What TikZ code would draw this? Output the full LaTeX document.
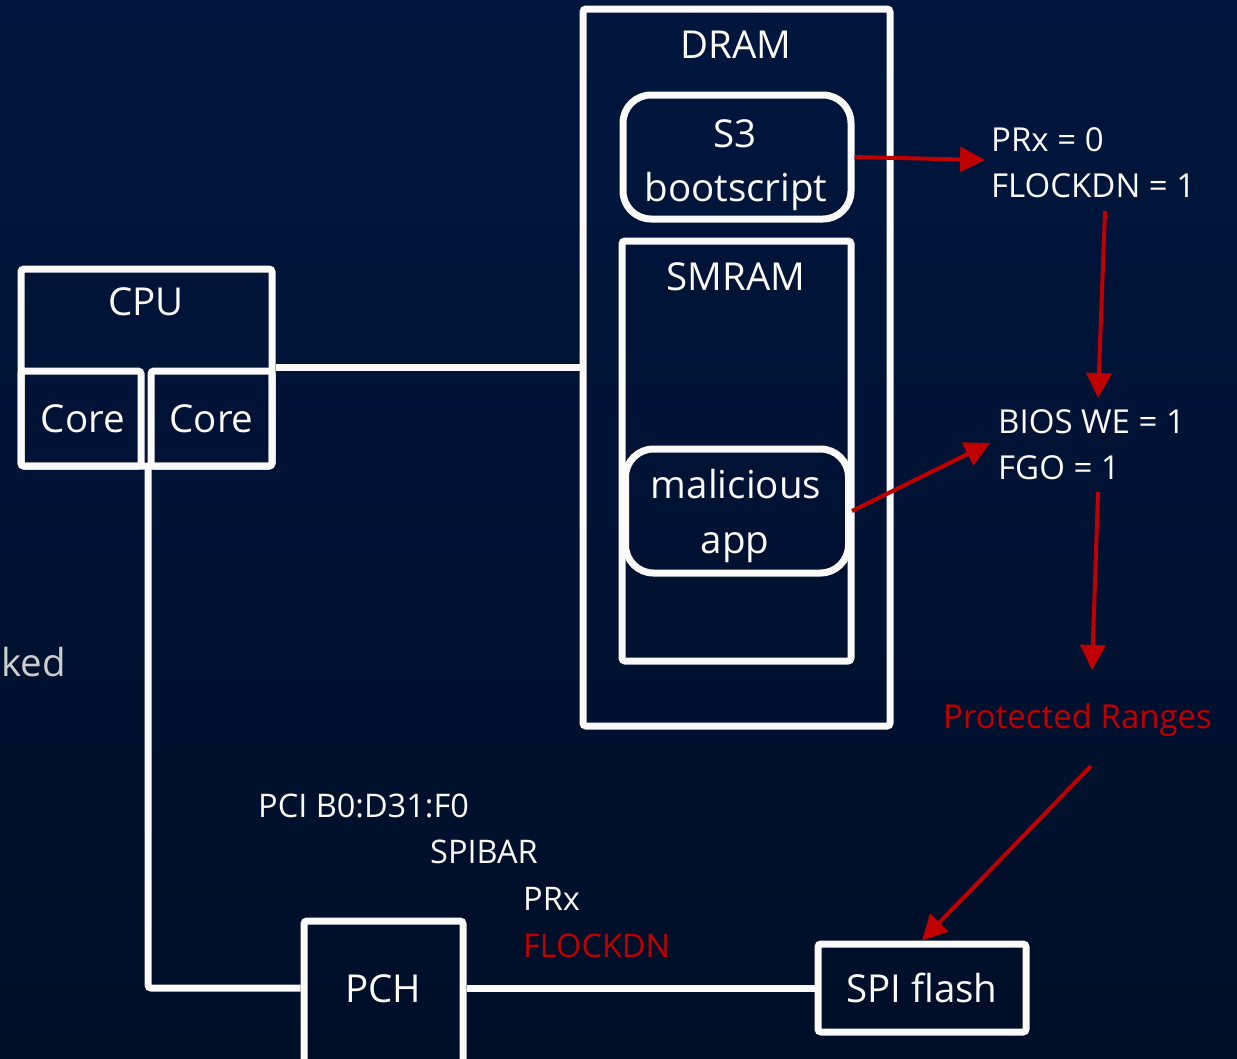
\documentclass[tikz,border=0pt]{standalone}
\usepackage{fontspec}
\setmainfont{Open Sans}
\usetikzlibrary{arrows.meta}
\definecolor{bgtop}{RGB}{0,22,62}
\definecolor{bgbot}{RGB}{0,15,40}
\definecolor{txtwhite}{RGB}{250,250,250}
\definecolor{alertred}{RGB}{192,0,0}
\definecolor{fadegray}{RGB}{205,205,205}
\begin{document}
\begin{tikzpicture}[x=1pt,y=-1pt,
  box/.style={draw=txtwhite, line width=7pt, rounded corners=3pt, inner sep=0pt, text=txtwhite},
  roundbox/.style={box, rounded corners=28pt},
  lbl/.style={text=txtwhite, inner sep=0pt, anchor=base},
  big/.style={font=\fontsize{38.5}{46}\selectfont},
  mid/.style={font=\fontsize{33}{40}\selectfont},
  small/.style={font=\fontsize{32.5}{39}\selectfont},
  wire/.style={draw=txtwhite, line width=7pt, rounded corners=3pt},
  redarrow/.style={draw=alertred, line width=4pt, -{Triangle[length=25pt,width=25pt]}},
]
\shade[top color=bgtop, bottom color=bgbot] (0,0) rectangle (1237,1058);
\clip (0,0) rectangle (1237,1058);

% DRAM
\node[box, minimum width=307pt, minimum height=717pt] (dram) at (736.5,367.5) {};
\node[lbl,big] (dramlbl) at (736,58) {DRAM};
\node[roundbox, minimum width=228pt, minimum height=124pt] (s3) at (737,157) {};
\node[lbl,big] (s3a) at (735,147) {S3};
\node[lbl,big] (s3b) at (736,201) {bootscript};
\node[box, minimum width=229pt, minimum height=420pt] (smram) at (736.5,451) {};
\node[lbl,big] (smramlbl) at (736,290) {SMRAM};
\node[roundbox, minimum width=223pt, minimum height=124pt] (mal) at (737,511) {};
\node[lbl,big] (mala) at (736,498) {malicious};
\node[lbl,big] (malb) at (735,553) {app};

% CPU
\node[box, minimum width=251pt, minimum height=197pt] (cpu) at (146.5,367.5) {};
\node[lbl,big] (cpulbl) at (146,315) {CPU};
\node[box,big, minimum width=120pt, minimum height=95pt] (core1) at (81,418.5) {\hspace*{4pt}Core};
\node[box,big, minimum width=121pt, minimum height=95pt] (core2) at (211.5,418.5) {Core};
\draw[wire] (cpu.east) -- (cpu.east -| dram.west);

% PCH and SPI flash
\coordinate (cpujoin) at (148,466);
\node[box, minimum width=159pt, minimum height=158pt] (pch) at (383.5,1000) {};
\node[lbl,big] (pchlbl) at (383,1002) {PCH};
\node[box,big, minimum width=208pt, minimum height=88pt] (spi) at (922,988) {SPI flash};
\draw[wire] (cpujoin) |- (pch.west |- spi.west);
\draw[wire] (pch.east |- spi.west) -- (spi.west);

% register path
\node[lbl,small,anchor=base west] (pci) at (258,817) {PCI B0:D31:F0};
\node[lbl,small,anchor=base west] (spibar) at (430,863) {SPIBAR};
\node[lbl,small,anchor=base west] (prx) at (523,910) {PRx};
\node[lbl,small,anchor=base west,text=alertred] (flockdn) at (523,957) {FLOCKDN};

% right side
\node[lbl,mid,anchor=base west] (prx0) at (991,151) {PRx = 0};
\node[lbl,mid,anchor=base west] (flk1) at (991,197) {FLOCKDN = 1};
\node[lbl,mid,anchor=base west] (bioswe) at (998,433) {BIOS WE = 1};
\node[lbl,mid,anchor=base west] (fgo) at (998,479) {FGO = 1};
\node[lbl,mid,anchor=base west,text=alertred] (prot) at (943,728) {Protected Ranges};

\node[lbl,big,anchor=base east,text=fadegray] (ked) at (66,676) {ked};

% red arrows
\coordinate (a1e) at (985,160);
\coordinate (a2s) at (1105,211);
\coordinate (a2e) at (1098,398);
\coordinate (a3e) at (990,443);
\coordinate (a4s) at (1098,492);
\coordinate (a4e) at (1092,670);
\coordinate (a5s) at (1091,766);
\draw[redarrow] (s3.east) -- (a1e);
\draw[redarrow] (a2s) -- (a2e);
\draw[redarrow] (mal.east) -- (a3e);
\draw[redarrow] (a4s) -- (a4e);
\draw[redarrow] (a5s) -- (spi.north);
\end{tikzpicture}
\end{document}
